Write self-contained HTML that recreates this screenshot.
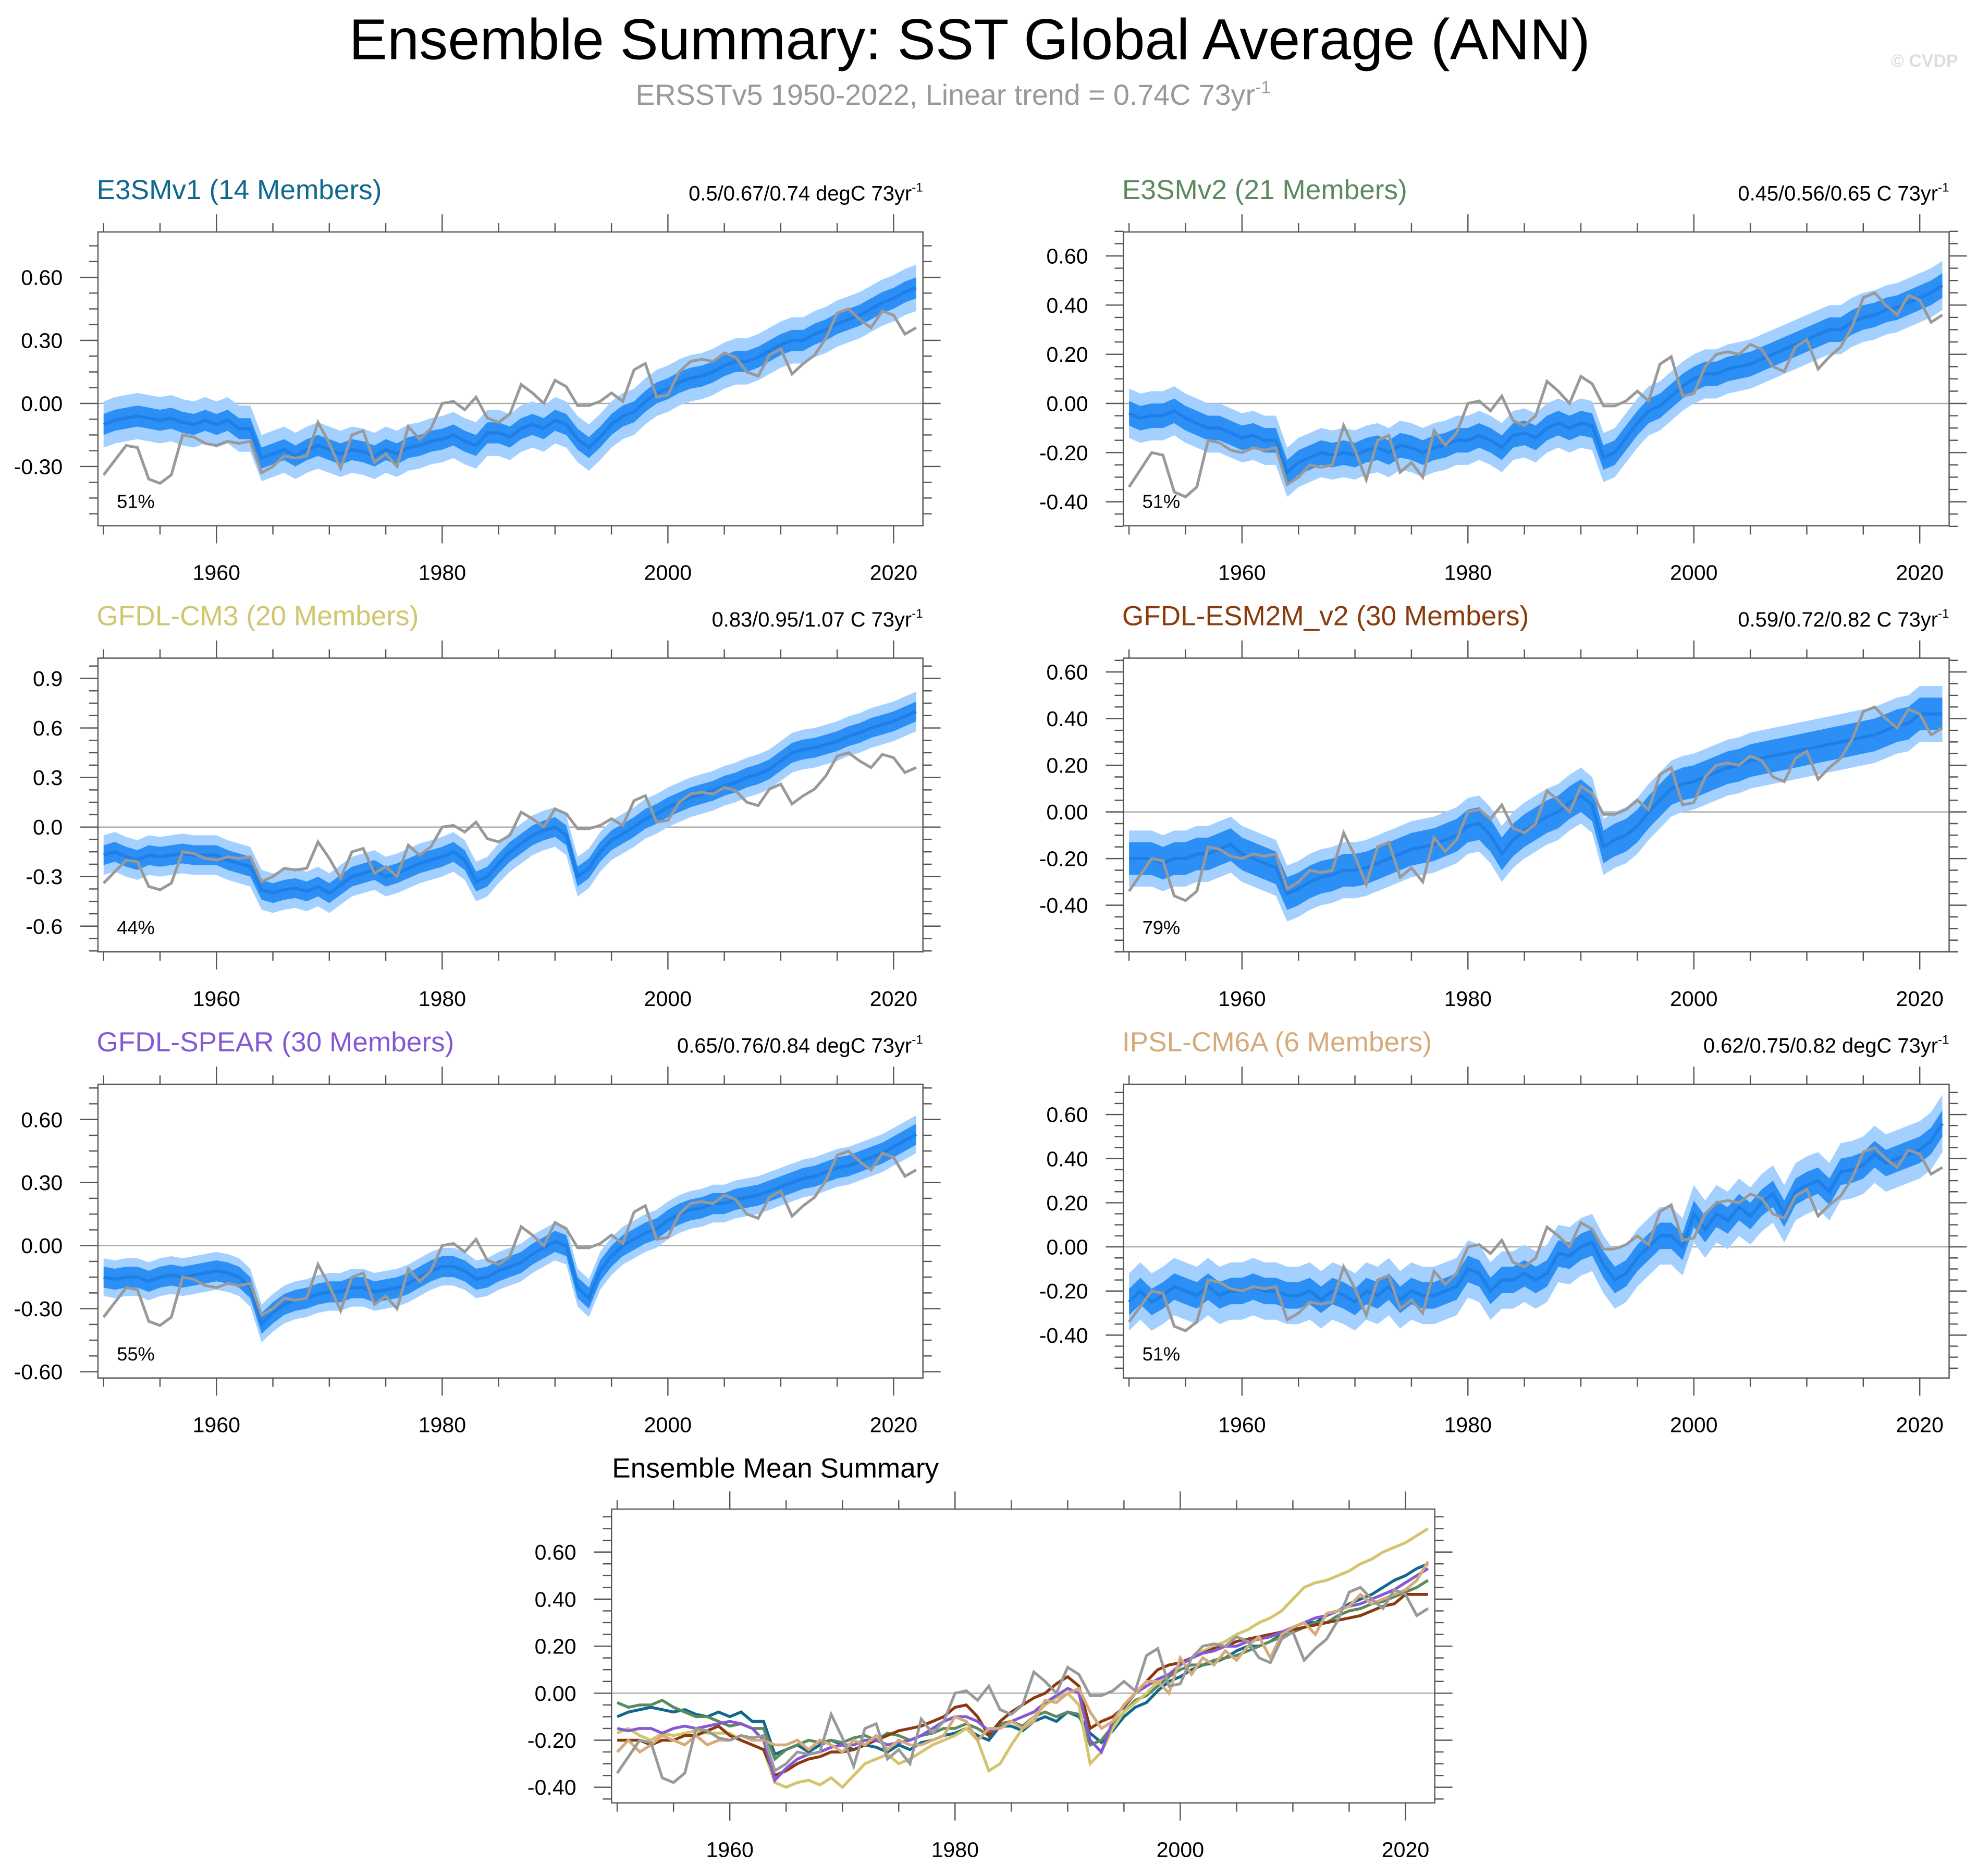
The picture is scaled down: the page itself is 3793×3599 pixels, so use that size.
<!DOCTYPE html>
<html><head><meta charset="utf-8"><style>
html,body{margin:0;padding:0;background:#fff}
svg{display:block}
text{font-family:"Liberation Sans",sans-serif}
</style></head><body>
<svg id="chart" width="3793" height="3599" viewBox="0 0 1568 1488" xmlns="http://www.w3.org/2000/svg">
<text x="769" y="47" font-size="45.5" text-anchor="middle" fill="#000">Ensemble Summary: SST Global Average (ANN)</text>
<text x="756" y="83" font-size="23" text-anchor="middle" fill="#999">ERSSTv5 1950-2022, Linear trend = 0.74C 73yr<tspan dy="-9" font-size="14">-1</tspan></text>
<text x="1553" y="53" font-size="14" text-anchor="end" fill="#ddd" font-weight="bold">© CVDP</text>
<g id="plots"></g>
</svg>
<script>
const years = []; for (let y = 1950; y <= 2022; y++) years.push(y);
const obs = [-0.34,-0.27,-0.20,-0.21,-0.36,-0.38,-0.34,-0.15,-0.16,-0.19,-0.20,-0.18,-0.19,-0.18,-0.33,-0.30,-0.25,-0.26,-0.25,-0.09,-0.19,-0.31,-0.15,-0.13,-0.28,-0.24,-0.30,-0.11,-0.17,-0.12,0.00,0.01,-0.03,0.03,-0.07,-0.09,-0.05,0.09,0.05,0.00,0.11,0.08,-0.01,-0.01,0.01,0.05,0.01,0.16,0.19,0.03,0.04,0.15,0.20,0.21,0.20,0.24,0.22,0.15,0.13,0.23,0.26,0.14,0.19,0.23,0.31,0.43,0.45,0.40,0.36,0.44,0.42,0.33,0.36];
const e3smv1 = [-0.10,-0.08,-0.07,-0.06,-0.07,-0.08,-0.07,-0.09,-0.10,-0.08,-0.10,-0.08,-0.12,-0.12,-0.26,-0.24,-0.22,-0.25,-0.22,-0.20,-0.22,-0.24,-0.22,-0.23,-0.25,-0.22,-0.24,-0.21,-0.20,-0.18,-0.17,-0.15,-0.18,-0.20,-0.14,-0.14,-0.16,-0.12,-0.10,-0.12,-0.08,-0.10,-0.17,-0.21,-0.16,-0.10,-0.06,-0.04,0.01,0.05,0.07,0.10,0.12,0.13,0.15,0.18,0.20,0.20,0.22,0.25,0.28,0.30,0.30,0.33,0.35,0.38,0.40,0.42,0.45,0.48,0.50,0.53,0.55];
const e3smv2 = [-0.04,-0.06,-0.05,-0.05,-0.03,-0.06,-0.08,-0.10,-0.10,-0.12,-0.14,-0.13,-0.15,-0.15,-0.28,-0.24,-0.22,-0.20,-0.21,-0.20,-0.21,-0.19,-0.18,-0.20,-0.17,-0.18,-0.20,-0.18,-0.17,-0.15,-0.15,-0.13,-0.15,-0.18,-0.13,-0.12,-0.14,-0.10,-0.08,-0.10,-0.08,-0.09,-0.22,-0.20,-0.14,-0.08,-0.03,-0.01,0.03,0.07,0.10,0.12,0.12,0.14,0.15,0.16,0.18,0.20,0.22,0.24,0.26,0.28,0.30,0.30,0.33,0.35,0.36,0.38,0.39,0.41,0.43,0.45,0.48];
const gfdlcm3 = [-0.17,-0.15,-0.18,-0.20,-0.17,-0.18,-0.17,-0.16,-0.17,-0.17,-0.17,-0.20,-0.22,-0.24,-0.38,-0.40,-0.38,-0.37,-0.39,-0.36,-0.40,-0.35,-0.30,-0.28,-0.26,-0.30,-0.28,-0.25,-0.22,-0.20,-0.18,-0.15,-0.20,-0.33,-0.30,-0.22,-0.15,-0.10,-0.05,-0.02,0.00,-0.05,-0.30,-0.25,-0.15,-0.08,-0.04,0.00,0.05,0.08,0.12,0.15,0.18,0.20,0.22,0.25,0.27,0.30,0.32,0.35,0.40,0.45,0.47,0.48,0.50,0.52,0.55,0.57,0.60,0.62,0.64,0.67,0.70];
const gfdlesm2m = [-0.20,-0.20,-0.20,-0.22,-0.20,-0.20,-0.18,-0.18,-0.16,-0.14,-0.18,-0.20,-0.22,-0.24,-0.35,-0.33,-0.30,-0.28,-0.27,-0.25,-0.25,-0.24,-0.22,-0.20,-0.18,-0.16,-0.15,-0.14,-0.12,-0.10,-0.06,-0.05,-0.10,-0.18,-0.12,-0.08,-0.05,-0.02,0.00,0.04,0.07,0.03,-0.15,-0.12,-0.10,-0.06,0.00,0.05,0.10,0.12,0.13,0.15,0.17,0.19,0.20,0.22,0.23,0.24,0.25,0.26,0.27,0.28,0.29,0.30,0.31,0.32,0.33,0.35,0.37,0.38,0.42,0.42,0.42];
const gfdlspear = [-0.15,-0.16,-0.15,-0.15,-0.17,-0.15,-0.14,-0.15,-0.14,-0.13,-0.12,-0.13,-0.15,-0.20,-0.37,-0.32,-0.28,-0.26,-0.25,-0.23,-0.22,-0.22,-0.20,-0.20,-0.22,-0.21,-0.20,-0.18,-0.15,-0.12,-0.10,-0.10,-0.12,-0.16,-0.15,-0.12,-0.10,-0.08,-0.04,-0.01,0.02,0.00,-0.20,-0.25,-0.12,-0.05,0.00,0.03,0.06,0.08,0.12,0.15,0.17,0.18,0.20,0.20,0.22,0.23,0.24,0.26,0.28,0.30,0.32,0.33,0.35,0.37,0.38,0.40,0.42,0.44,0.47,0.50,0.53];
const ipslcm6a = [-0.25,-0.20,-0.25,-0.22,-0.18,-0.20,-0.22,-0.18,-0.22,-0.20,-0.20,-0.18,-0.20,-0.20,-0.22,-0.22,-0.20,-0.24,-0.20,-0.22,-0.25,-0.20,-0.22,-0.18,-0.24,-0.20,-0.22,-0.22,-0.20,-0.18,-0.10,-0.12,-0.20,-0.15,-0.15,-0.12,-0.15,-0.12,-0.03,-0.04,0.00,0.02,-0.08,-0.15,-0.12,-0.05,0.00,0.05,0.05,0.00,0.15,0.08,0.15,0.12,0.18,0.14,0.20,0.24,0.15,0.25,0.28,0.30,0.25,0.34,0.35,0.37,0.42,0.38,0.40,0.42,0.44,0.48,0.56];
const innerHalfWidth = [0.05, 0.05, 0.06, 0.07, 0.05, 0.06];
const outerHalfWidth = [0.11, 0.10, 0.12, 0.12, 0.09, 0.13];
const modelNames = ["E3SMv1 (14 Members)","E3SMv2 (21 Members)","GFDL-CM3 (20 Members)","GFDL-ESM2M_v2 (30 Members)","GFDL-SPEAR (30 Members)","IPSL-CM6A (6 Members)"];
const trendLabels = ["0.5/0.67/0.74 degC 73yr","0.45/0.56/0.65 C 73yr","0.83/0.95/1.07 C 73yr","0.59/0.72/0.82 C 73yr","0.65/0.76/0.84 degC 73yr","0.62/0.75/0.82 degC 73yr"];
const pctLabels = ["51%","51%","44%","79%","55%","51%"];
const yTickSets = [[0.6,0.3,0,-0.3],[0.6,0.4,0.2,0,-0.2,-0.4],[0.9,0.6,0.3,0,-0.3,-0.6],[0.6,0.4,0.2,0,-0.2,-0.4],[0.6,0.3,0,-0.3,-0.6],[0.6,0.4,0.2,0,-0.2,-0.4]];
const yTickFmt = [2,2,1,2,2,2];
const xTicks = [1960,1980,2000,2020];
const modelColors = ["#10698c","#5b8a5e","#d2c56e","#8a3a0c","#8559d4","#d6ab7c"];
const series = [e3smv1,e3smv2,gfdlcm3,gfdlesm2m,gfdlspear,ipslcm6a];

const NS = "http://www.w3.org/2000/svg";
const root = document.getElementById('plots');
function el(tag, attrs, parent) {
  const e = document.createElementNS(NS, tag);
  for (const k in attrs) e.setAttribute(k, attrs[k]);
  (parent || root).appendChild(e);
  return e;
}
const layouts = [
  {x0:77.6,x1:732,y0:184,y1:417,zero:320,ppu:166.7},
  {x0:891,x1:1546,y0:184,y1:417,zero:320,ppu:195},
  {x0:77.6,x1:732,y0:522,y1:755,zero:656,ppu:131},
  {x0:891,x1:1546,y0:522,y1:755,zero:644,ppu:185},
  {x0:77.6,x1:732,y0:860,y1:1093,zero:988,ppu:166.7},
  {x0:891,x1:1546,y0:860,y1:1093,zero:989,ppu:175}
];
function makeAxes(L, g, idx) {
  const pxPerYr = (L.x1 - L.x0) / (2022.6 - 1949.5);
  const xs = yr => L.x0 + (yr - 1949.5) * pxPerYr;
  const ys = v => L.zero - v * L.ppu;
  const cp = el('clipPath', {id:'clip'+idx}, g);
  el('rect', {x:L.x0, y:L.y0, width:L.x1-L.x0, height:L.y1-L.y0}, cp);
  const z = el('line', {x1:L.x0, x2:L.x1, y1:ys(0), y2:ys(0), stroke:'#aaa', 'stroke-width':1}, g);
  
  
  return {xs, ys};
}
function drawFrame(L, A, yvals, fmt, g) {
  const f = el('rect', {x:L.x0, y:L.y0, width:L.x1-L.x0, height:L.y1-L.y0, fill:'none', stroke:'#555', 'stroke-width':1}, g);
  
  
  for (let yr = 1950; yr <= 2020; yr += 5) {
    const x = A.xs(yr), major = yr % 20 === 0;
    const len = major ? 14 : 7;
    el('line', {x1:x, x2:x, y1:L.y1, y2:L.y1+len, stroke:'#555', 'stroke-width':1}, g);
    el('line', {x1:x, x2:x, y1:L.y0, y2:L.y0-len, stroke:'#555', 'stroke-width':1}, g);
  }
  xTicks.forEach(yr => {
    const t = el('text', {x:A.xs(yr), y:L.y1+43, 'font-size':17, 'text-anchor':'middle'}, g);
    
    
    t.textContent = yr;
  });
  const step = Math.abs(yvals[0]-yvals[1]);
  const lo = Math.min(...yvals)-step, hi = Math.max(...yvals)+step;
  for (let v = lo; v <= hi + 1e-9; v += step/4) {
    const y = A.ys(v);
    if (y < L.y0 - 0.5 || y > L.y1 + 0.5) continue;
    const major = yvals.some(m => Math.abs(m - v) < 1e-6);
    const len = major ? 14 : 7;
    el('line', {x1:L.x0, x2:L.x0-len, y1:y, y2:y, stroke:'#555', 'stroke-width':1}, g);
    el('line', {x1:L.x1, x2:L.x1+len, y1:y, y2:y, stroke:'#555', 'stroke-width':1}, g);
  }
  yvals.forEach(v => {
    const t = el('text', {x:L.x0-28, y:A.ys(v)+6, 'font-size':17, 'text-anchor':'end'}, g);
    
    
    t.textContent = (Math.abs(v) < 1e-9 ? 0 : v).toFixed(fmt);
  });
}
function linePath(A, vals) {
  return vals.map((v,i)=>(i?'L':'M')+A.xs(years[i]).toFixed(2)+','+A.ys(v).toFixed(2)).join('');
}
function bandPath(A, vals, hw) {
  let d = vals.map((v,i)=>(i?'L':'M')+A.xs(years[i]).toFixed(2)+','+A.ys(v+hw).toFixed(2)).join('');
  for (let i = vals.length-1; i >= 0; i--) d += 'L'+A.xs(years[i]).toFixed(2)+','+A.ys(vals[i]-hw).toFixed(2);
  return d + 'Z';
}
series.forEach((vals, i) => {
  const L = layouts[i];
  const g = el('g', {});
  
  
  const A = makeAxes(L, g, i);
  const ob = el('path', {d:bandPath(A, vals, outerHalfWidth[i]), fill:'#a3d0ff', 'clip-path':'url(#clip'+i+')'}, g);
  
  
  const ib = el('path', {d:bandPath(A, vals, innerHalfWidth[i]), fill:'#2b8ff5', 'clip-path':'url(#clip'+i+')'}, g);
  
  
  const ml = el('path', {d:linePath(A, vals), fill:'none', stroke:'#1e7fe6', 'stroke-width':2.5}, g);
  
  
  const ol = el('path', {d:linePath(A, obs), fill:'none', stroke:'#999', 'stroke-width':2.2, 'clip-path':'url(#clip'+i+')'}, g);
  
  
  drawFrame(L, A, yTickSets[i], yTickFmt[i], g);
  const tt = el('text', {x:L.x0-1, y:L.y0-26, 'font-size':22, fill:modelColors[i]}, g);
  
  
  tt.textContent = modelNames[i];
  const tr = el('text', {x:L.x1, y:L.y0-25, 'font-size':16.5, 'text-anchor':'end'}, g);
  
  
  tr.textContent = trendLabels[i];
  const sup = el('tspan', {dy:-7, 'font-size':10}, tr);
  sup.textContent = '-1';
  const pc = el('text', {x:L.x0+15, y:L.y1-14, 'font-size':15}, g);
  
  
  pc.textContent = pctLabels[i];
});
(function(){
  const L = {x0:485,x1:1138,y0:1197,y1:1430,zero:1343,ppu:186.5};
  const g = el('g', {});
  
  
  const A = makeAxes(L, g, 6);
  series.forEach((vals, i) => {
    const p = el('path', {d:linePath(A, vals), fill:'none', stroke:modelColors[i], 'stroke-width':2.3, 'clip-path':'url(#clip6)'}, g);
    
    
  });
  const ol = el('path', {d:linePath(A, obs), fill:'none', stroke:'#999', 'stroke-width':2.2, 'clip-path':'url(#clip6)'}, g);
  
  
  drawFrame(L, A, [0.6,0.4,0.2,0,-0.2,-0.4], 2, g);
  const t = el('text', {x:615, y:1172, 'font-size':22, 'text-anchor':'middle'}, g);
  
  
  t.textContent = 'Ensemble Mean Summary';
})();
</script>
</body></html>
